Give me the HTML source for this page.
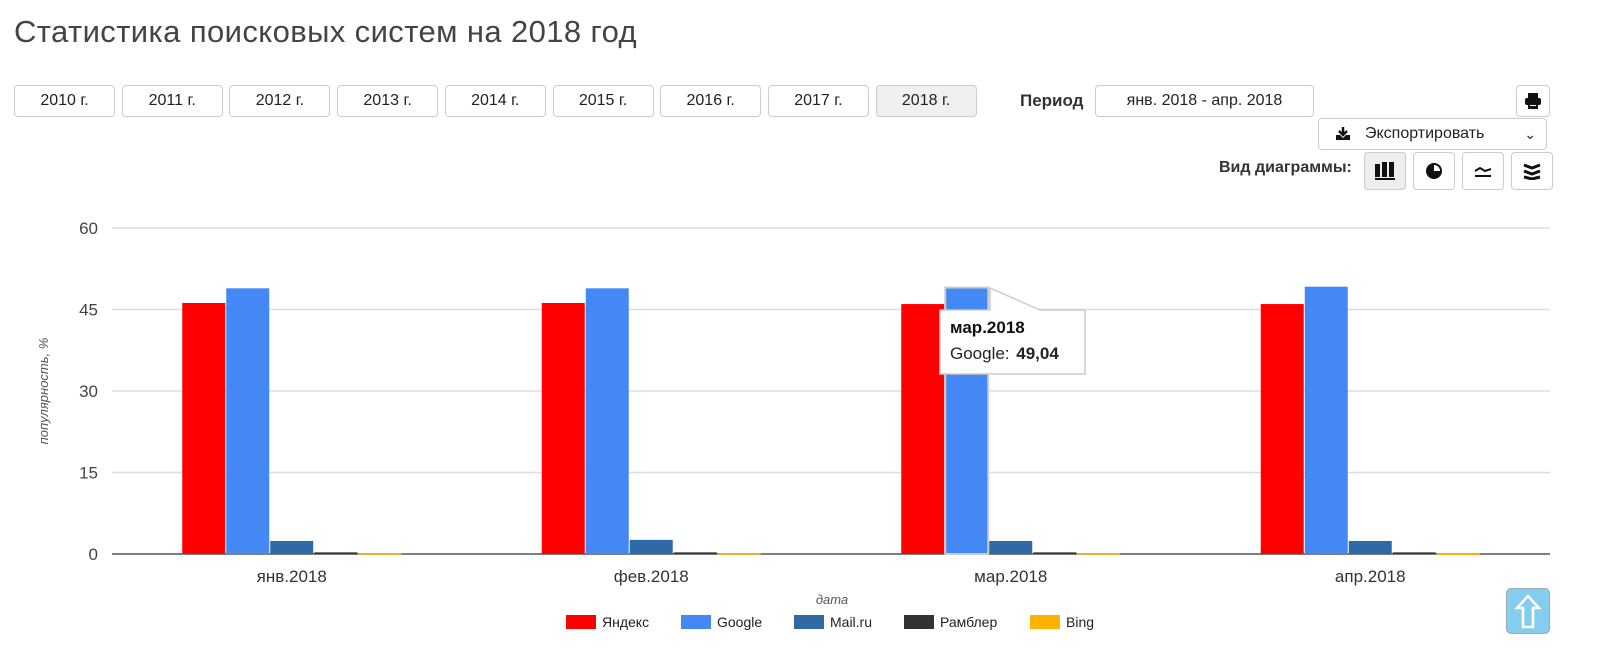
<!DOCTYPE html>
<html><head><meta charset="utf-8"><style>
body{margin:0;width:1600px;height:649px;background:#fff;font-family:"Liberation Sans","Noto Sans CJK SC",sans-serif;position:relative;overflow:hidden;color:#333}
.abs{position:absolute}
h1{position:absolute;left:14px;top:14px;margin:0;font-size:31px;letter-spacing:0.4px;font-weight:normal;color:#444}
.btn{position:absolute;border:1px solid #ccc;border-radius:4px;background:#fff;font-size:16px;line-height:30px;text-align:center;color:#222;box-sizing:border-box;height:32px}
.ib{position:absolute;width:36px;height:36px;border:1px solid #ccc;border-radius:4px;background:#fff;box-sizing:border-box;display:flex;align-items:center;justify-content:center}
</style></head><body>
<h1>Статистика поисковых систем на 2018 год</h1>
<div id="years"></div>
<div class="abs" style="left:1020px;top:91px;font-size:17px;font-weight:bold;color:#333">Период</div>
<div class="btn" style="left:1095px;top:85px;width:219px">янв. 2018 - апр. 2018</div>
<div class="ib" style="left:1516px;top:85px;width:34px;height:32px"><svg width="18" height="16"><rect x="4" y="0" width="10" height="5" fill="#111"/><rect x="1" y="5" width="16" height="7" rx="2" fill="#111"/><rect x="4" y="10" width="10" height="6" fill="#111"/><rect x="6" y="12" width="6" height="1" fill="#fff"/></svg></div>
<div class="btn" style="left:1318px;top:118px;width:229px;height:32px;text-align:left;padding-left:46px">Экспортировать<span style="position:absolute;right:10px;top:0;font-size:14px">&#8964;</span><svg style="position:absolute;left:16px;top:8px" width="16" height="14"><path d="M8 0 L8 7 M4 4 L8 8 L12 4" stroke="#111" stroke-width="2.5" fill="none"/><path d="M1 8 L1 13 L15 13 L15 8 L11 8 L8 11 L5 8 Z" fill="#111"/></svg></div>
<div class="abs" style="left:1219px;top:159px;font-size:16px;font-weight:bold;color:#333">Вид диаграммы:</div>
<div class="ib" style="left:1364px;top:152px;background:#eee;width:42px;height:38px"><svg width="20" height="18"><rect x="0" y="2" width="5" height="13" fill="#111"/><rect x="7" y="0" width="5" height="15" fill="#111"/><rect x="14" y="0" width="5" height="15" fill="#111"/><rect x="0" y="16" width="20" height="2" fill="#111"/></svg></div>
<div class="ib" style="left:1413px;top:152px;width:42px;height:38px"><svg width="16" height="16"><circle cx="8" cy="8" r="8" fill="#111"/><path d="M8 8 L8 2 A6 6 0 0 1 14 8Z" fill="#fff"/></svg></div>
<div class="ib" style="left:1462px;top:152px;width:42px;height:38px"><svg width="18" height="14"><path d="M1 7 L6 4 L11 7 L17 5" stroke="#111" stroke-width="2" fill="none"/><rect x="1" y="11" width="16" height="2" fill="#111"/></svg></div>
<div class="ib" style="left:1511px;top:152px;width:42px;height:38px"><svg width="18" height="18"><path d="M1 3 L9 6 L17 3 M1 9 L9 12 L17 9 M1 15 L9 17 L17 15" stroke="#111" stroke-width="3" fill="none"/></svg></div>
<svg id="chart" class="abs" style="left:0;top:0" width="1600" height="649"></svg>
<div class="abs" style="left:1506px;top:588px;width:44px;height:46px;background:#85cdef;border:1px solid #9ab;border-radius:5px;box-sizing:border-box"><svg width="44" height="46"><path d="M21 7 L32 19 L26 19 L26 38 L16 38 L16 19 L10 19 Z" fill="none" stroke="#fff" stroke-width="2.5"/></svg></div>
<script>
const years=["2010 г.","2011 г.","2012 г.","2013 г.","2014 г.","2015 г.","2016 г.","2017 г.","2018 г."];
const yc=document.getElementById('years');
years.forEach((y,i)=>{const d=document.createElement('div');d.className='btn';d.textContent=y;
d.style.left=(14+i*107.7)+'px';d.style.top='85px';d.style.width='101px';if(i==8)d.style.background='#f0f0f0';


yc.appendChild(d);});

const categories=["янв.2018","фев.2018","мар.2018","апр.2018"];
const seriesNames=["Яндекс","Google","Mail.ru","Рамблер","Bing"];
const colors=["#ff0000","#4488f6","#2f6aa6","#333333","#ffb300"];
const yandex=[46.2,46.2,46.0,46.0];
const google=[48.9,48.9,49.04,49.2];
const mailru=[2.4,2.6,2.4,2.4];
const rambler=[0.3,0.3,0.3,0.3];
const bing=[0.15,0.15,0.15,0.1];
const yTicks=[0,15,30,45,60];
const series=[yandex,google,mailru,rambler,bing];

const svg=document.getElementById('chart');const NS='http://www.w3.org/2000/svg';
function el(t,a,p){const e=document.createElementNS(NS,t);for(const k in a)e.setAttribute(k,a[k]);(p||svg).appendChild(e);return e;}
const x0=112,x1=1550,yTop=228,yBot=554;
const yS=v=>yBot-(v/60)*(yBot-yTop);
const cw=(x1-x0)/categories.length;
const xC=i=>x0+cw*(i+0.5);
yTicks.forEach(t=>{const l=el('line',{x1:x0,x2:x1,y1:yS(t),y2:yS(t),stroke:t?'#ddd':'#555','stroke-width':1.5});

const tx=el('text',{x:98,y:yS(t)+6,'text-anchor':'end','font-size':17,fill:'#444'});tx.textContent=t;
});
const bw=44;
categories.forEach((c,i)=>{
 series.forEach((s,j)=>{const x=xC(i)-bw*2.5+j*bw;const h=yBot-yS(s[i]);
  const r=el('rect',{x:x+0.5,y:yS(s[i]),width:bw-1,height:Math.max(h,1.5),fill:colors[j],stroke:(i==2&&j==1)?'#ccc':'none','stroke-width':2});
  });
 const t=el('text',{x:xC(i),y:582,'text-anchor':'middle','font-size':17,fill:'#333'});t.textContent=c;
 
});
const yt=el('text',{transform:'translate(48,391) rotate(-90)','text-anchor':'middle','font-size':13,'font-style':'italic',fill:'#555'});yt.textContent='популярность, %';

const xt=el('text',{x:832,y:604,'text-anchor':'middle','font-size':13,'font-style':'italic',fill:'#555'});xt.textContent='дата';

const lx=[566,681,794,904,1030];
seriesNames.forEach((n,j)=>{const g=el('g',{});
 el('rect',{x:lx[j],y:615,width:30,height:14,fill:colors[j]},g);
 const t=el('text',{x:lx[j]+36,y:627,'font-size':14,fill:'#222'},g);t.textContent=n;
 });
const tg=el('g',{});
el('path',{d:'M940 310 L990 310 L990 288 L1040 310 L1085 310 L1085 374 L940 374 Z',fill:'#fff',stroke:'#ccc','stroke-width':1.5},tg);
const t1=el('text',{x:950,y:333,'font-size':17,'font-weight':'bold',fill:'#111'},tg);t1.textContent='мар.2018';
const t2=el('text',{x:950,y:359,'font-size':17,fill:'#222'},tg);t2.textContent='Google: ';
const t3=el('tspan',{'font-weight':'bold',dx:2},t2);t3.textContent=google[2].toFixed(2).replace('.',',');
</script>
</body></html>
